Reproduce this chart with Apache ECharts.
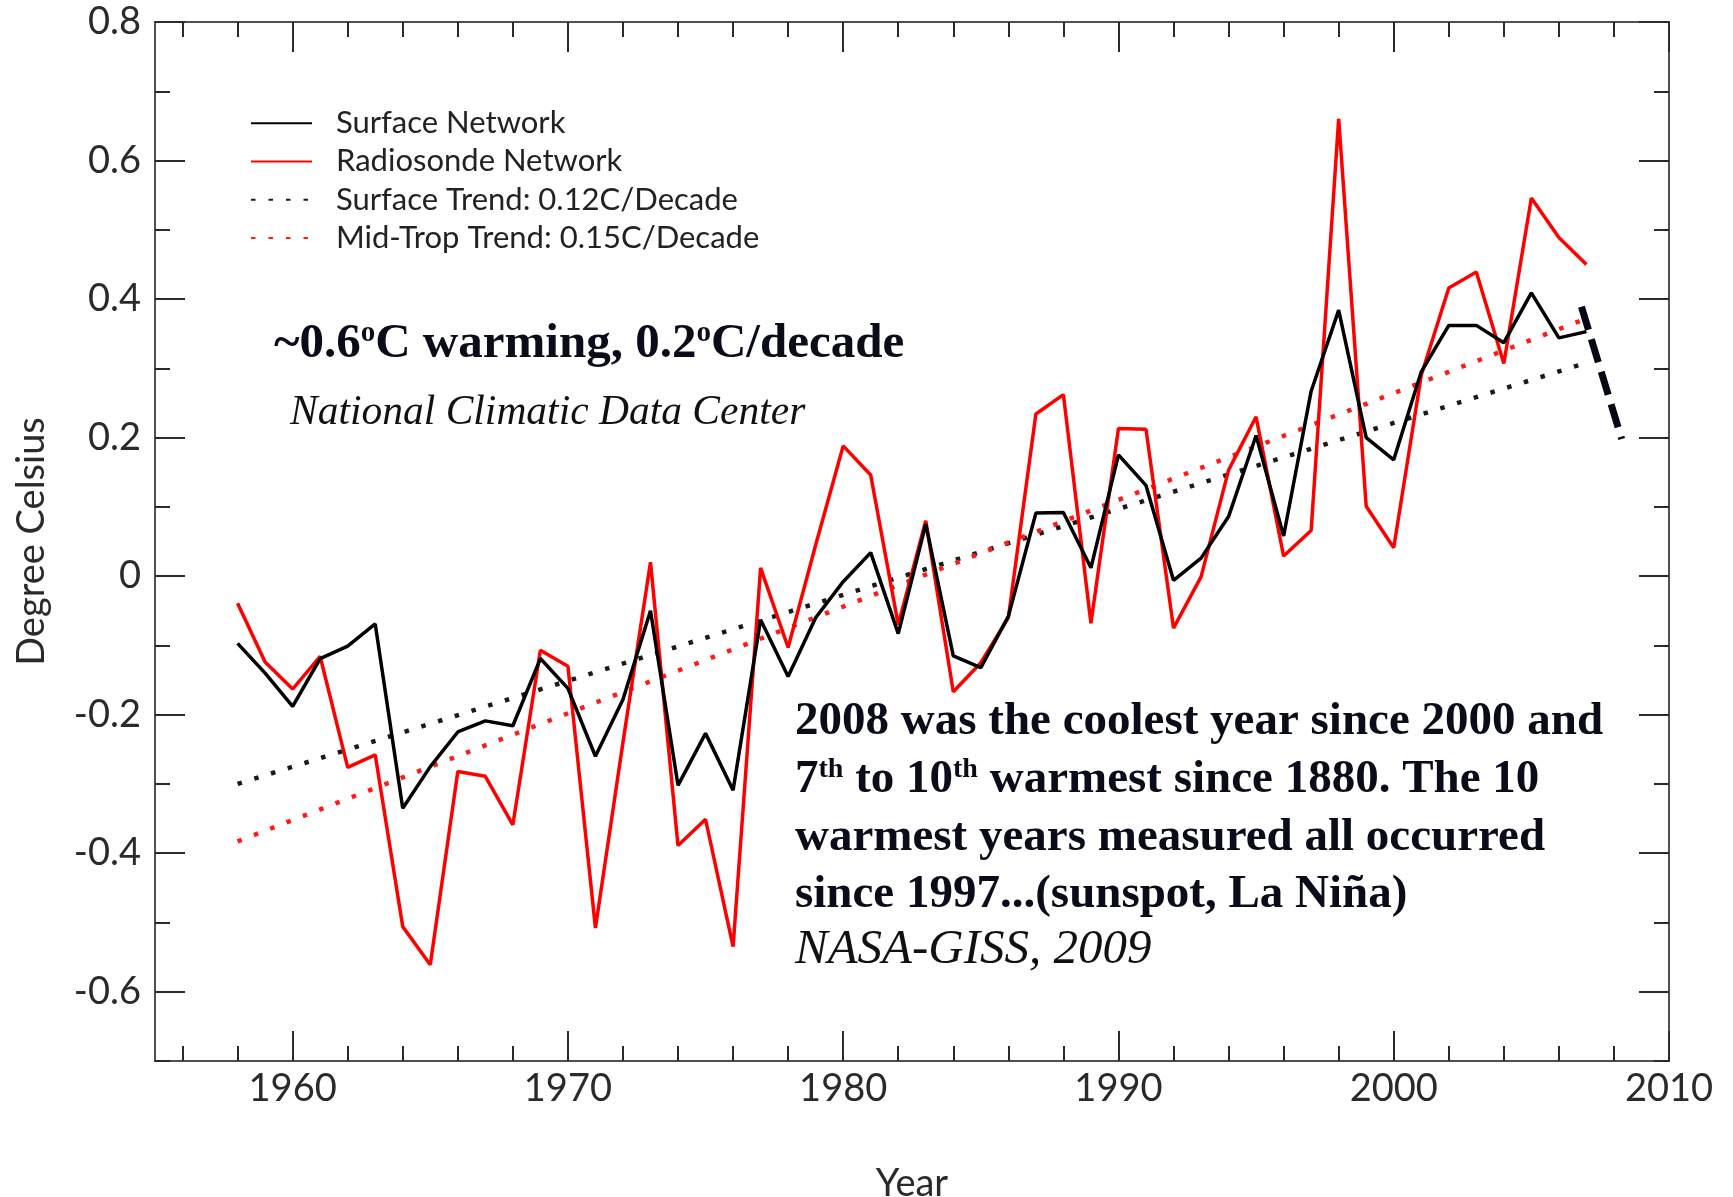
<!DOCTYPE html>
<html>
<head>
<meta charset="utf-8">
<title>Surface vs Radiosonde temperature anomalies</title>
<script src="https://cdn.jsdelivr.net/npm/echarts@6/dist/echarts.min.js"></script>
<style>
  html, body { margin: 0; padding: 0; background: #ffffff; }
  #chart { width: 1733px; height: 1197px; }
</style>
</head>
<body>
<div id="chart"></div>
<script>
// Annual temperature anomalies (degrees Celsius), 1958-2007
const years = [1958, 1959, 1960, 1961, 1962, 1963, 1964, 1965, 1966, 1967,
               1968, 1969, 1970, 1971, 1972, 1973, 1974, 1975, 1976, 1977,
               1978, 1979, 1980, 1981, 1982, 1983, 1984, 1985, 1986, 1987,
               1988, 1989, 1990, 1991, 1992, 1993, 1994, 1995, 1996, 1997,
               1998, 1999, 2000, 2001, 2002, 2003, 2004, 2005, 2006, 2007];

const surfaceNetwork = [-0.097, -0.140, -0.188, -0.119, -0.101, -0.069, -0.335, -0.275, -0.225, -0.209,
                        -0.216, -0.119, -0.162, -0.260, -0.178, -0.050, -0.302, -0.227, -0.309, -0.063,
                        -0.145, -0.060, -0.008, 0.034, -0.083, 0.075, -0.115, -0.132, -0.058, 0.091,
                        0.092, 0.012, 0.175, 0.131, -0.006, 0.026, 0.086, 0.203, 0.058, 0.267,
                        0.384, 0.200, 0.168, 0.295, 0.362, 0.362, 0.337, 0.409, 0.344, 0.353];

const radiosondeNetwork = [-0.039, -0.124, -0.163, -0.116, -0.276, -0.258, -0.506, -0.561, -0.282, -0.289,
                           -0.359, -0.107, -0.130, -0.508, -0.240, 0.020, -0.389, -0.351, -0.535, 0.012,
                           -0.103, 0.045, 0.188, 0.146, -0.070, 0.080, -0.167, -0.125, -0.060, 0.234,
                           0.262, -0.068, 0.213, 0.212, -0.075, -0.001, 0.153, 0.230, 0.029, 0.066,
                           0.660, 0.101, 0.041, 0.290, 0.416, 0.439, 0.307, 0.546, 0.489, 0.450];

// Fitted linear trends: [year, value] at the ends of the record
const surfaceTrend = [[1958, -0.300], [2007, 0.308]];
const midTropTrend = [[1958, -0.383], [2007, 0.372]];

// Hand-drawn 2008 drop marker: [year, value]
const coolingMark = [[2006.82, 0.389], [2008.28, 0.198]];

// Axis ticks and labels
const yearLabels = [1960, 1970, 1980, 1990, 2000, 2010];
const yearMinorTicks = [1956, 1958, 1960, 1962, 1964, 1966, 1968, 1970, 1972, 1974, 1976, 1978,
                        1980, 1982, 1984, 1986, 1988, 1990, 1992, 1994, 1996, 1998, 2000, 2002,
                        2004, 2006, 2008];
const tempLabels = [-0.6, -0.4, -0.2, 0, 0.2, 0.4, 0.6, 0.8];
const tempMinorTicks = [-0.7, -0.6, -0.5, -0.4, -0.3, -0.2, -0.1, 0, 0.1, 0.2, 0.3, 0.4, 0.5, 0.6, 0.7, 0.8];

const seriesNames = ['Surface Network', 'Radiosonde Network',
                     'Surface Trend: 0.12C/Decade', 'Mid-Trop Trend: 0.15C/Decade'];

const sans = 'Lato, "Open Sans", sans-serif';
const serif = '"Liberation Serif", "Times New Roman", serif';
const ink = '#0a0c1a';

const X_MIN = 1955, X_MAX = 2010, Y_MIN = -0.7, Y_MAX = 0.8;
const gridBox = { left: 155, right: 64, top: 22, bottom: 136, outerBoundsMode: 'none', containLabel: false };

const frameLine = { show: true, onZero: false, lineStyle: { color: '#505050', width: 2 } };

function xAxisDef(gridIndex, position, ticks, len, withLabels) {
  return {
    type: 'value', gridIndex, position, min: X_MIN, max: X_MAX,
    axisLine: frameLine,
    axisTick: { show: true, inside: true, length: len, customValues: ticks,
                lineStyle: { color: '#2a2a2a', width: 2 } },
    axisLabel: withLabels ? {
      show: true, customValues: yearLabels, margin: 9,
      fontFamily: sans, fontSize: 38, color: '#2a2a2a',
      formatter: v => String(Math.round(v))
    } : { show: false },
    splitLine: { show: false },
    name: withLabels ? 'Year' : '',
    nameLocation: 'middle', nameGap: 104,
    nameTextStyle: { fontFamily: sans, fontSize: 38, color: '#2a2a2a' }
  };
}

function yAxisDef(gridIndex, position, ticks, len, withLabels) {
  return {
    type: 'value', gridIndex, position, min: Y_MIN, max: Y_MAX,
    axisLine: frameLine,
    axisTick: { show: true, inside: true, length: len, customValues: ticks,
                lineStyle: { color: '#2a2a2a', width: 2 } },
    axisLabel: withLabels ? {
      show: true, customValues: tempLabels, margin: 14,
      fontFamily: sans, fontSize: 38, color: '#2a2a2a',
      formatter: v => String(+(+v).toFixed(1))
    } : { show: false },
    splitLine: { show: false },
    name: withLabels ? 'Degree Celsius' : '',
    nameLocation: 'middle', nameGap: 104,
    nameTextStyle: { fontFamily: sans, fontSize: 38, color: '#2a2a2a' }
  };
}

const toPoints = vals => years.map((yr, i) => [yr, vals[i]]);

// Rich-text line with superscripts; parts are [style, text] pairs
function richLine(x, baseline, size, parts) {
  const text = parts.map(p => '{' + p[0] + '|' + p[1] + '}').join('');
  const main = { fontFamily: serif, fontWeight: 'bold', fontSize: size, lineHeight: size * 1.2, fill: ink, color: ink };
  const sup = { fontFamily: serif, fontWeight: 'bold', fontSize: Math.round(size * 0.6), lineHeight: Math.round(size * 0.6),
                fill: ink, color: ink, verticalAlign: 'top', padding: [Math.round(size * 0.08), 0, 0, 0] };
  return {
    type: 'text', x, y: baseline - 0.3375 * size, silent: true, z: 10,
    style: {
      text, rich: { b: main, s: sup },
      fontFamily: serif, fontWeight: 'bold', fontSize: size, fill: ink,
      align: 'left', verticalAlign: 'middle', textAlign: 'left', textVerticalAlign: 'middle'
    }
  };
}

function italicLine(x, baseline, size, text) {
  return {
    type: 'text', x, y: baseline - 0.3375 * size, silent: true, z: 10,
    style: {
      text, fontFamily: serif, fontStyle: 'italic', fontSize: size, fill: '#111111',
      align: 'left', verticalAlign: 'middle', textAlign: 'left', textVerticalAlign: 'middle'
    }
  };
}

const notes = [
  richLine(274, 361, 49, [['b', '~0.6'], ['s', 'o'], ['b', 'C warming, 0.2'], ['s', 'o'], ['b', 'C/decade']]),
  italicLine(290, 427, 41.5, 'National Climatic Data Center'),
  richLine(795, 738, 47, [['b', '2008 was the coolest year since 2000 and']]),
  richLine(795, 796, 47, [['b', '7'], ['s', 'th'], ['b', ' to 10'], ['s', 'th'], ['b', ' warmest since 1880. The 10']]),
  richLine(795, 854, 47, [['b', 'warmest years measured all occurred']]),
  richLine(795, 911, 47, [['b', 'since 1997...(sunspot, La Niña)']]),
  italicLine(795, 967, 49, 'NASA-GISS, 2009')
];

const chart = echarts.init(document.getElementById('chart'), null, { renderer: 'canvas' });

chart.setOption({
  animation: false,
  backgroundColor: '#ffffff',
  grid: [
    Object.assign({}, gridBox),
    Object.assign({}, gridBox)
  ],
  xAxis: [
    xAxisDef(0, 'bottom', yearLabels, 30, true),
    xAxisDef(0, 'top', yearLabels, 30, false),
    xAxisDef(1, 'bottom', yearMinorTicks, 15, false),
    xAxisDef(1, 'top', yearMinorTicks, 15, false)
  ],
  yAxis: [
    yAxisDef(0, 'left', tempLabels, 30, true),
    yAxisDef(0, 'right', tempLabels, 30, false),
    yAxisDef(1, 'left', tempMinorTicks, 15, false),
    yAxisDef(1, 'right', tempMinorTicks, 15, false)
  ],
  legend: {
    data: seriesNames,
    orient: 'vertical',
    left: 245, top: 99,
    itemWidth: 61, itemHeight: 4, itemGap: 0,
    selectedMode: false,
    itemStyle: { opacity: 0 },
    textStyle: { fontFamily: sans, fontSize: 31, color: '#222222', lineHeight: 38.3, padding: [0, 0, 0, 19] }
  },
  series: [
    {
      name: seriesNames[0], type: 'line', xAxisIndex: 0, yAxisIndex: 0,
      data: toPoints(surfaceNetwork), symbol: 'none', showSymbol: false, color: '#000000',
      lineStyle: { color: '#000000', width: 3.5 }, z: 4
    },
    {
      name: seriesNames[1], type: 'line', xAxisIndex: 0, yAxisIndex: 0,
      data: toPoints(radiosondeNetwork), symbol: 'none', showSymbol: false, color: '#ff0000',
      lineStyle: { color: '#ff0000', width: 3.5 }, z: 3
    },
    {
      name: seriesNames[2], type: 'line', xAxisIndex: 0, yAxisIndex: 0,
      data: surfaceTrend, symbol: 'none', showSymbol: false, color: '#1a1a1a',
      lineStyle: { color: '#1a1a1a', width: 4.5, type: [4.5, 13], cap: 'butt' }, z: 2
    },
    {
      name: seriesNames[3], type: 'line', xAxisIndex: 0, yAxisIndex: 0,
      data: midTropTrend, symbol: 'none', showSymbol: false, color: '#ff1a1a',
      lineStyle: { color: '#ff1a1a', width: 4.5, type: [4.5, 13], cap: 'butt' }, z: 2
    },
    {
      name: '2008 drop', type: 'line', xAxisIndex: 0, yAxisIndex: 0,
      data: coolingMark, symbol: 'none', showSymbol: false, color: '#050814',
      lineStyle: { color: '#050814', width: 7, type: [24, 10], cap: 'butt' }, z: 5
    }
  ],
  graphic: notes
});
</script>
</body>
</html>
